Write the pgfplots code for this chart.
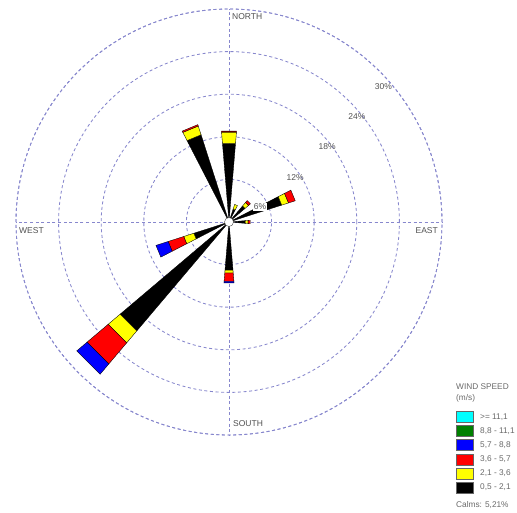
\documentclass[border=0pt]{standalone}
\usepackage{pgfplots}
\pgfplotsset{compat=1.18}
\usepgfplotslibrary{polar}
\usepackage{fontspec}
\setmainfont{Liberation Sans}
\definecolor{gridc}{RGB}{135,135,205}
\definecolor{txt}{RGB}{80,80,80}
\definecolor{ltxt}{RGB}{105,105,105}
\definecolor{wgreen}{RGB}{0,128,0}
\definecolor{wcyan}{RGB}{0,255,255}
\definecolor{wblue}{RGB}{0,0,255}
\definecolor{wred}{RGB}{255,0,0}
\definecolor{wyellow}{RGB}{255,255,0}
\newcommand{\seg}[5]{\addplot[fill=#1, draw=black, line width=0.35pt, forget plot] coordinates {(#2,#4) (#2,#5) (#3,#5) (#3,#4)} -- cycle;}
\begin{document}
\begin{tikzpicture}[x=1pt,y=1pt]
\path[use as bounding box] (-229,-291) rectangle (288,222);
\begin{polaraxis}[
  at={(0,0)}, anchor=origin,
  scale only axis, width=426pt, height=426pt,
  xmin=0, xmax=360, ymin=0, ymax=30,
  xtick={0,90,180,270}, ytick={6,12,18,24,30},
  xticklabels={}, yticklabels={},
  major tick length=0pt,
  grid=major,
  major grid style={gridc, dash pattern=on 3pt off 2.6pt, line width=0.85pt},
  axis line style={gridc, dash pattern=on 3pt off 2.6pt, line width=0.85pt},
  clip=false,
  legend style={at={(1.026,0.061)}, anchor=north west, draw=none, fill=none,
    font=\fontsize{8.3}{9}\selectfont, text=ltxt, row sep=2.7pt,
    nodes={inner sep=1pt},
    /tikz/every odd column/.append style={column sep=5.5pt}},
  legend cell align=left,
  legend image code/.code={\draw[#1] (0pt,-5.5pt) rectangle (17pt,5.5pt);},
]
\addlegendimage{fill=wcyan, draw=black!60}
\addlegendentry{>= 11,1}
\addlegendimage{fill=wgreen, draw=black!60}
\addlegendentry{8,8 - 11,1}
\addlegendimage{fill=wblue, draw=black!60}
\addlegendentry{5,7 - 8,8}
\addlegendimage{fill=wred, draw=black!60}
\addlegendentry{3,6 - 5,7}
\addlegendimage{fill=wyellow, draw=black!60}
\addlegendentry{2,1 - 3,6}
\addlegendimage{fill=black, draw=black!60}
\addlegendentry{0,5 - 2,1}
% N
\seg{black}{85.25}{94.75}{0}{11.1}
\seg{wyellow}{85.25}{94.75}{11.1}{12.7}
\seg{wred}{85.25}{94.75}{12.7}{12.85}
% NNE
\seg{black}{62.75}{72.25}{0}{1.9}
\seg{wyellow}{62.75}{72.25}{1.9}{2.6}
% NE
\seg{black}{40.25}{49.75}{0}{2.95}
\seg{wyellow}{40.25}{49.75}{2.95}{3.6}
\seg{wred}{40.25}{49.75}{3.6}{3.95}
% ENE
\seg{black}{17.75}{27.25}{0}{7.8}
\seg{wyellow}{17.75}{27.25}{7.8}{8.8}
\seg{wred}{17.75}{27.25}{8.8}{9.8}
% E
\seg{black}{355.25}{364.75}{0}{2.3}
\seg{wyellow}{355.25}{364.75}{2.3}{2.7}
\seg{wred}{355.25}{364.75}{2.7}{3.0}
% S
\seg{black}{265.25}{274.75}{0}{6.8}
\seg{wyellow}{265.25}{274.75}{6.8}{7.2}
\seg{wred}{265.25}{274.75}{7.2}{8.4}
\seg{wblue}{265.25}{274.75}{8.4}{8.6}
% SW
\seg{black}{220.25}{229.75}{0}{20.1}
\seg{wyellow}{220.25}{229.75}{20.1}{22.3}
\seg{wred}{220.25}{229.75}{22.3}{26.2}
\seg{wblue}{220.25}{229.75}{26.2}{28.1}
% WSW
\seg{black}{197.75}{207.25}{0}{5.2}
\seg{wyellow}{197.75}{207.25}{5.2}{6.7}
\seg{wred}{197.75}{207.25}{6.7}{9.0}
\seg{wblue}{197.75}{207.25}{9.0}{10.8}
% NNW
\seg{black}{107.75}{117.25}{0}{12.9}
\seg{wyellow}{107.75}{117.25}{12.9}{14.2}
\seg{wred}{107.75}{117.25}{14.2}{14.4}
% calm circle
\draw[black!70, fill=white, line width=0.4pt] (axis cs:0,0) circle[radius=4.5pt];
% ring labels
\begin{scope}[every node/.style={text=txt, font=\fontsize{8.5}{10}\selectfont, inner sep=0.6pt}]
\node[fill=white] at (axis cs:25.8,4.85) {6\%};
\node at (axis cs:33.7,11.2) {12\%};
\node at (axis cs:37.4,17.4) {18\%};
\node at (axis cs:39.4,23.3) {24\%};
\node at (axis cs:41.2,28.9) {30\%};
\end{scope}
\begin{scope}[every node/.style={text=txt, font=\fontsize{8.5}{10}\selectfont, inner sep=0pt}]
\node[anchor=north west, xshift=3pt, yshift=-4pt] at (axis cs:90,30) {NORTH};
\node[anchor=north west, xshift=3pt, yshift=-5pt] at (axis cs:180,30) {WEST};
\node[anchor=north east, xshift=-4pt, yshift=-5pt] at (axis cs:0,30) {EAST};
\node[anchor=south west, xshift=4pt, yshift=8pt] at (axis cs:270,30) {SOUTH};
\end{scope}
\end{polaraxis}
\begin{scope}[every node/.style={text=ltxt, font=\fontsize{8.3}{9}\selectfont, inner sep=0pt, anchor=west}]
\node at (227,-165) {WIND SPEED};
\node at (227,-176.5) {(m/s)};
\node at (227,-283) {Calms: 5,21\%};
\end{scope}
\end{tikzpicture}
\end{document}
